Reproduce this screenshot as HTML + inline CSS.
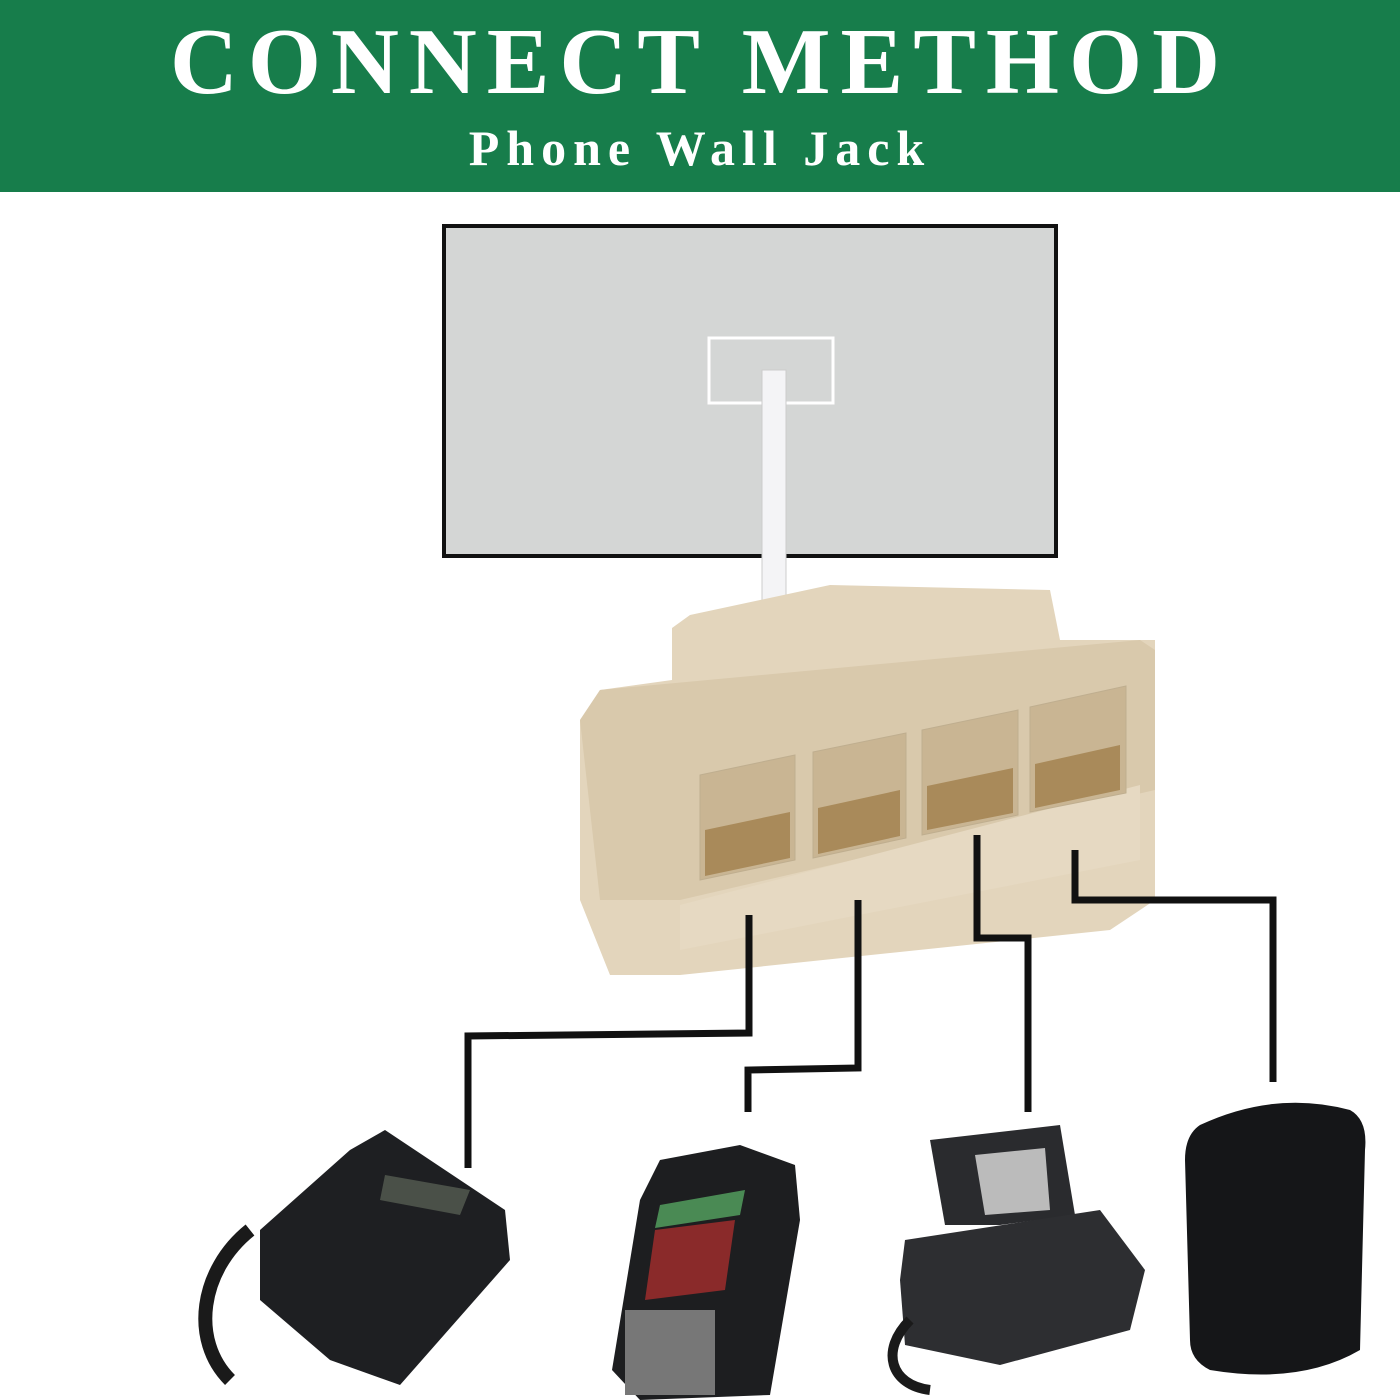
<!DOCTYPE html>
<html><head><meta charset="utf-8"><style>
html,body{margin:0;padding:0;background:#fff;}
#w{position:relative;width:1400px;height:1400px;overflow:hidden;background:#fff;}
.hd{position:absolute;left:0;top:0;width:1400px;height:192px;background:#177d4b;}
.t1{position:absolute;left:0;width:1400px;text-align:center;color:#fff;font-family:"Liberation Serif",serif;font-weight:bold;white-space:nowrap;}
</style></head><body><div id="w">
<div class="hd"></div>
<div class="t1" style="top:12px;font-size:94px;letter-spacing:10px;line-height:100px;">CONNECT METHOD</div>
<div class="t1" style="top:118px;font-size:50px;letter-spacing:7px;line-height:60px;">Phone Wall Jack</div>
<svg width="1400" height="1400" style="position:absolute;left:0;top:0">
<rect x="444" y="226" width="612" height="330" fill="#d4d6d5" stroke="#111" stroke-width="4"/>
<rect x="709" y="338" width="124" height="65" fill="none" stroke="#fff" stroke-width="3"/>
<rect x="762" y="370" width="24" height="235" fill="#f4f4f6" stroke="#ccc" stroke-width="1"/>
<polygon points="672,628 690,615 830,585 1050,590 1060,640 1155,640 1155,900 1110,930 680,975 610,975 580,900 580,720 600,690 672,680" fill="#e3d5bc"/>
<polygon points="580,720 600,690 1140,640 1155,650 1155,790 680,900 600,900" fill="#d9c9ac"/>
<polygon points="680,905 1140,785 1140,860 680,950" fill="#e6d9c2"/>
<g fill="#c9b593" stroke="#bfae8f">
<polygon points="700,775 795,755 795,860 700,880"/>
<polygon points="813,752 906,733 906,838 813,858"/>
<polygon points="922,730 1018,710 1018,815 922,835"/>
<polygon points="1030,707 1126,686 1126,793 1030,812"/>
</g>
<g fill="#a98a5a">
<polygon points="705,830 790,812 790,858 705,876"/>
<polygon points="818,808 900,790 900,836 818,854"/>
<polygon points="927,786 1013,768 1013,813 927,830"/>
<polygon points="1035,764 1120,745 1120,790 1035,808"/>
</g>
<g fill="none" stroke="#111" stroke-width="7">
<polyline points="749,915 749,1033 468,1036 468,1168"/>
<polyline points="858,900 858,1068 748,1070 748,1112"/>
<polyline points="977,835 977,938 1028,938 1028,1112"/>
<polyline points="1075,850 1075,900 1273,900 1273,1082"/>
</g>
<polygon points="260,1230 350,1150 385,1130 505,1210 510,1260 400,1385 330,1360 260,1300" fill="#1e1f22"/>
<polygon points="385,1175 470,1190 460,1215 380,1200" fill="#4a5048"/>
<path d="M250,1230 C200,1270 190,1340 230,1380" stroke="#1a1a1a" stroke-width="14" fill="none"/>
<polygon points="660,1160 740,1145 795,1165 800,1220 770,1395 640,1400 612,1370 640,1200" fill="#1d1e20"/>
<polygon points="655,1230 735,1220 725,1290 645,1300" fill="#8a2a2a"/>
<polygon points="660,1205 745,1190 740,1215 655,1228" fill="#4a8a54"/>
<rect x="625" y="1310" width="90" height="85" fill="#777"/>
<polygon points="930,1140 1060,1125 1075,1215 1000,1225 945,1225" fill="#2a2b2e"/>
<polygon points="975,1155 1045,1148 1050,1210 985,1215" fill="#bbb"/>
<polygon points="905,1240 1100,1210 1145,1270 1130,1330 1000,1365 905,1345 900,1280" fill="#2d2e31"/>
<path d="M910,1320 C880,1350 890,1385 930,1390" stroke="#1a1a1a" stroke-width="10" fill="none"/>
<path d="M1200,1125 Q1275,1090 1350,1110 Q1368,1120 1365,1150 L1360,1350 Q1300,1385 1210,1370 Q1190,1360 1190,1340 L1185,1160 Q1185,1135 1200,1125Z" fill="#151618"/>
</svg>
</div></body></html>
